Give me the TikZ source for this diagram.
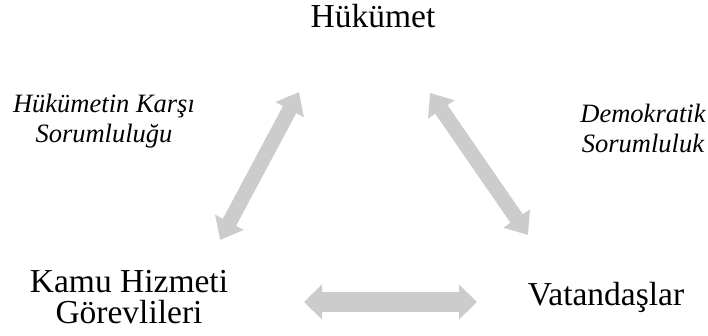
\documentclass[tikz,border=0pt]{standalone}
\usepackage{fontspec}
\setmainfont{Liberation Serif}
\usetikzlibrary{arrows.meta}

\tikzset{
    party/.style = {font=\fontsize{33.5}{31}\selectfont, align=center, inner sep=0pt, anchor=base},
    remark/.style = {font=\fontsize{26.5}{30}\selectfont\itshape, align=center, inner sep=0pt, anchor=base},
    link/.style = {draw=black!20, line width=15pt,
        {Triangle[length=20pt, width=31pt]}-{Triangle[length=20pt, width=31pt]}},
    wide link/.style = {link, line width=20pt,
        {Triangle[length=18pt, width=34pt]}-{Triangle[length=18pt, width=34pt]}}
}

\begin{document}
\begin{tikzpicture}[x=1pt, y=-1pt]
    \useasboundingbox (0, 0) rectangle (708, 335);

    \node[party] (gov) at (373, 27) {Hükümet};
    \node[party] (staff) at (129, 323) {Kamu Hizmeti\\Görevlileri};
    \node[party] (citizens) at (606, 305) {Vatandaşlar};

    \node[remark] (govresp) at (104, 142) {Hükümetin Karşı\\Sorumluluğu};
    \node[remark] (demresp) at (643, 152) {Demokratik\\Sorumluluk};

    % arrow ends
    \coordinate (staff end) at (220, 240);
    \coordinate (gov left) at (299, 92);
    \coordinate (gov right) at (430, 93);
    \coordinate (citizens end) at (528, 235);
    \coordinate (staff right) at (304, 302);
    \coordinate (citizens left) at (477, 302);

    \draw[link] (staff end) to (gov left);
    \draw[link] (gov right) to (citizens end);
    \draw[wide link] (staff right) to (citizens left);
\end{tikzpicture}
\end{document}
